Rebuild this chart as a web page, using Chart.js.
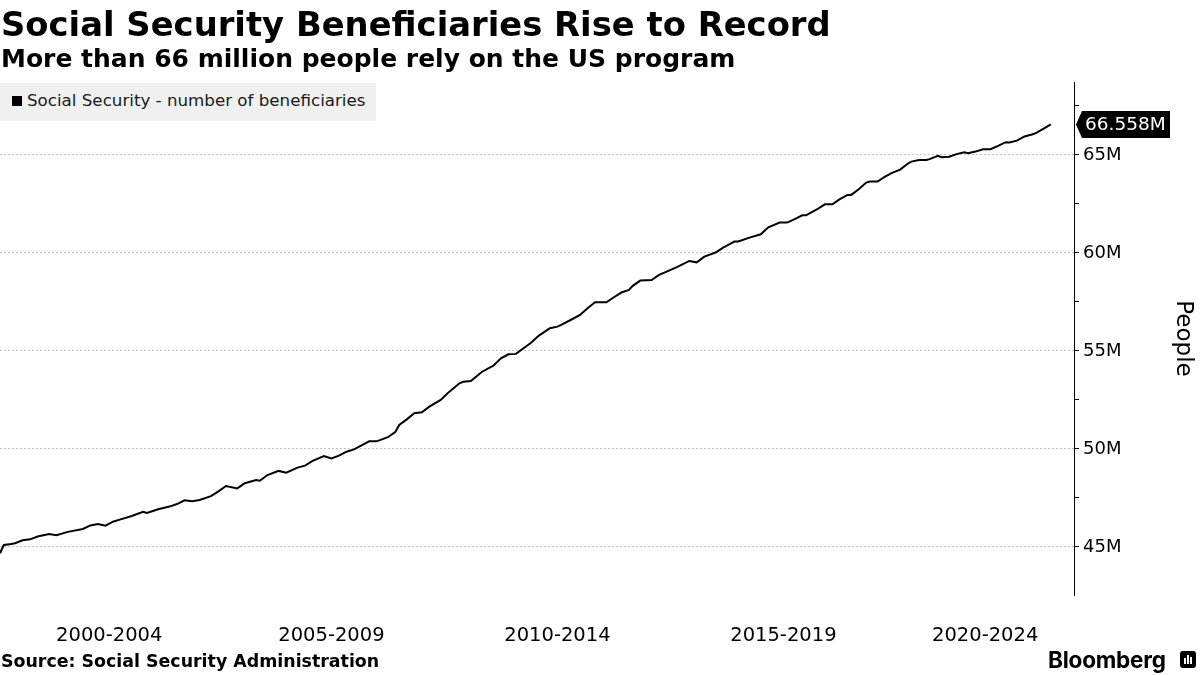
<!DOCTYPE html>
<html>
<head>
<meta charset="utf-8">
<script src="https://cdn.jsdelivr.net/npm/chart.js@4.4.0/dist/chart.umd.min.js"></script>
<style>
  body { margin: 0; background: #fff; }
  #wrap { position: relative; width: 1200px; height: 675px; overflow: hidden; font-family: "DejaVu Sans", sans-serif; color: #000; }
  canvas { position: absolute; left: 0; top: 0; }
  .title { position: absolute; left: 1px; top: 8px; font-weight: bold; font-size: 33.8px; line-height: 1; white-space: nowrap; }
  .subtitle { position: absolute; left: 1px; top: 46px; font-weight: bold; font-size: 25px; line-height: 1; white-space: nowrap; }
  .legend { position: absolute; left: 0; top: 83px; width: 376px; height: 38px; background: #f0f0f0; }
  .legend .sq { position: absolute; left: 12px; top: 13px; width: 10px; height: 10px; background: #000; }
  .legend span { position: absolute; left: 27px; top: 9px; font-size: 16.7px; line-height: 1; color: #1a1a1a; white-space: nowrap; }
  .source { position: absolute; left: 1px; top: 653px; font-weight: bold; font-size: 17.4px; line-height: 1; white-space: nowrap; }
  .brand { position: absolute; left: 1048px; top: 649px; font-family: Inter, Roboto, sans-serif; font-weight: bold; font-size: 22.5px; line-height: 1; letter-spacing: -0.2px; }
  .icon { position: absolute; left: 1180px; top: 651px; width: 16px; height: 17px; background: #000; border-radius: 3px; }
  .icon i { position: absolute; bottom: 4px; width: 2px; background: #fff; }
</style>
</head>
<body>
<div id="wrap">
  <canvas id="myChart" width="1200" height="675"></canvas>
  <div class="title">Social Security Beneficiaries Rise to Record</div>
  <div class="subtitle">More than 66 million people rely on the US program</div>
  <div class="legend"><div class="sq"></div><span>Social Security - number of beneficiaries</span></div>
  <div class="source">Source: Social Security Administration</div>
  <div class="brand">Bloomberg</div>
  <div class="icon"><i style="left:4px;height:6px"></i><i style="left:7px;height:9px"></i><i style="left:10px;height:7px"></i></div>
</div>
<script>
  // monthly readings, millions of people
  var months = [
    '2000-03','2000-04','2000-06','2000-07','2000-09','2000-11',
    '2001-01','2001-04','2001-06','2001-09',
    '2002-01','2002-03','2002-05','2002-07','2002-09','2002-11',
    '2003-02','2003-05','2003-06','2003-09','2003-12',
    '2004-02','2004-04','2004-06','2004-08','2004-11',
    '2005-01','2005-03','2005-06','2005-08','2005-11','2005-12',
    '2006-02','2006-05','2006-07','2006-10','2006-12',
    '2007-02','2007-05','2007-07','2007-09','2007-11',
    '2008-01','2008-04','2008-05','2008-07','2008-10','2008-12',
    '2009-01','2009-03','2009-05','2009-07','2009-09','2009-12',
    '2010-02','2010-05','2010-06','2010-08','2010-11',
    '2011-02','2011-04','2011-06','2011-08','2011-10','2011-12',
    '2012-02','2012-05','2012-07','2012-08','2012-11',
    '2013-01','2013-03','2013-05','2013-08','2013-10','2013-12',
    '2014-02','2014-03','2014-05','2014-08','2014-10','2014-12',
    '2015-03','2015-06','2015-08','2015-10',
    '2016-01','2016-03','2016-06','2016-07','2016-10',
    '2017-01','2017-03','2017-06','2017-08','2017-10','2017-12',
    '2018-01','2018-04','2018-06','2018-08','2018-10','2018-12',
    '2019-01','2019-03','2019-05','2019-06','2019-08','2019-10','2019-12',
    '2020-02','2020-04','2020-05','2020-07','2020-09','2020-10','2020-12',
    '2021-01','2021-03','2021-05','2021-07','2021-08','2021-10','2021-12',
    '2022-02','2022-04','2022-06','2022-07','2022-09','2022-11',
    '2023-01','2023-02','2023-04','2023-06'
  ];
  var beneficiaries = [
    44.68, 45.10, 45.15, 45.19, 45.34, 45.39,
    45.53, 45.66, 45.60, 45.77,
    45.92, 46.10, 46.17, 46.09, 46.29, 46.41,
    46.58, 46.79, 46.73, 46.92, 47.06,
    47.19, 47.38, 47.33, 47.40, 47.59,
    47.84, 48.11, 47.99, 48.25, 48.42, 48.38,
    48.67, 48.88, 48.79, 49.05, 49.15,
    49.39, 49.64, 49.52, 49.66, 49.86,
    49.98, 50.29, 50.39, 50.39, 50.60, 50.88,
    51.22, 51.51, 51.82, 51.87, 52.16, 52.50,
    52.87, 53.35, 53.43, 53.47, 53.94,
    54.25, 54.62, 54.83, 54.85, 55.14, 55.42,
    55.77, 56.16, 56.24, 56.33, 56.63,
    56.84, 57.18, 57.48, 57.48, 57.74, 57.98,
    58.11, 58.32, 58.59, 58.62, 58.88, 59.05,
    59.30, 59.59, 59.52, 59.81,
    60.02, 60.27, 60.58, 60.58, 60.78,
    60.95, 61.31, 61.55, 61.55, 61.72, 61.92,
    61.92, 62.23, 62.48, 62.48, 62.74, 62.96,
    62.96, 63.25, 63.59, 63.64, 63.64, 63.89, 64.10,
    64.25, 64.55, 64.66, 64.74, 64.74, 64.80, 64.95,
    64.88, 64.91, 65.04, 65.14, 65.09, 65.17, 65.29,
    65.29, 65.46, 65.65, 65.63, 65.73, 65.94,
    66.04, 66.11, 66.33, 66.558
  ];
  var periodStarts = [2000, 2005, 2010, 2015, 2020];
  var periodLabels = ['2000-2004', '2005-2009', '2010-2014', '2015-2019', '2020-2024'];
  var yTickValues = [45, 47.5, 50, 52.5, 55, 57.5, 60, 62.5, 65, 67.5];

  function toYear(s) {
    var p = s.split('-');
    return +p[0] + (p[1] - 1) / 12;
  }

  var points = months.map(function (m, i) { return { x: toYear(m), y: beneficiaries[i] }; });

  // black tag with the latest value, pinned on the right axis
  var lastValueTag = {
    id: 'lastValueTag',
    afterDraw: function (chart) {
      var ctx = chart.ctx;
      var ys = chart.scales.y;
      var v = beneficiaries[beneficiaries.length - 1];
      var y = ys.getPixelForValue(v);
      var x = ys.left;
      ctx.save();
      ctx.fillStyle = '#000';
      ctx.beginPath();
      ctx.moveTo(x + 2, y);
      ctx.lineTo(x + 8, y - 13.5);
      ctx.lineTo(x + 96, y - 13.5);
      ctx.lineTo(x + 96, y + 13.5);
      ctx.lineTo(x + 8, y + 13.5);
      ctx.closePath();
      ctx.fill();
      ctx.fillStyle = '#fff';
      ctx.font = '18.5px "DejaVu Sans"';
      ctx.textBaseline = 'middle';
      ctx.fillText(v.toFixed(3) + 'M', x + 11, y + 1);
      ctx.restore();
    }
  };

  var ctx = document.getElementById('myChart').getContext('2d');
  var myChart = new Chart(ctx, {
    type: 'line',
    data: {
      datasets: [{
        label: 'Social Security - number of beneficiaries',
        data: points,
        borderColor: '#000',
        borderWidth: 2,
        pointRadius: 0,
        tension: 0
      }]
    },
    options: {
      responsive: false,
      animation: false,
      layout: { padding: { top: 82, left: 0, right: 0, bottom: 0 } },
      plugins: { legend: { display: false }, tooltip: { enabled: false } },
      scales: {
        x: {
          type: 'linear',
          min: toYear(months[0]),
          max: 2023.93,
          grid: { display: false, drawTicks: false },
          border: { display: false },
          afterBuildTicks: function (scale) {
            // one label per five-year block, centred on the visible part
            scale.ticks = periodStarts.map(function (s) {
              var a = Math.max(s, scale.min), b = Math.min(s + 5, scale.max);
              return { value: (a + b) / 2 };
            });
          },
          afterFit: function (scale) { scale.height = 80; },
          ticks: {
            autoSkip: false,
            maxRotation: 0,
            padding: 29,
            color: '#000',
            font: { family: 'DejaVu Sans', size: 19.5 },
            callback: function (value, index) { return periodLabels[index]; }
          }
        },
        y: {
          position: 'right',
          min: 42.55,
          max: 68.72,
          afterBuildTicks: function (scale) {
            scale.ticks = yTickValues.map(function (v) { return { value: v }; });
          },
          afterFit: function (scale) { scale.width = 126; },
          border: { display: true, color: '#000', width: 1, dash: [2, 2] },
          grid: {
            color: function (c) {
              return c.tick && c.tick.value % 5 === 0 ? '#c4c4c4' : 'rgba(0,0,0,0)';
            },
            tickColor: '#000',
            tickLength: 5,
            lineWidth: 1
          },
          ticks: {
            padding: 4,
            color: '#000',
            font: { family: 'DejaVu Sans', size: 18 },
            callback: function (value) { return value % 5 === 0 ? value + 'M' : ''; }
          },
          title: {
            display: true,
            text: 'People',
            color: '#000',
            font: { family: 'DejaVu Sans', size: 23 },
            padding: { top: 3, bottom: 0 }
          }
        }
      }
    },
    plugins: [lastValueTag]
  });
</script>
</body>
</html>
